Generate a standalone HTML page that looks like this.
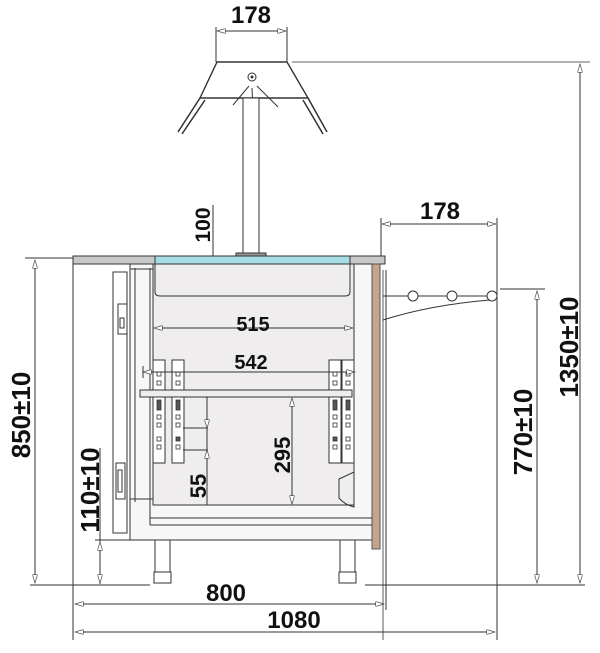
<!DOCTYPE html>
<html><head><meta charset="utf-8"><style>
html,body{margin:0;padding:0;background:#fff;}
svg{display:block;}
text{font-family:"Liberation Sans",Arial,sans-serif;font-weight:bold;fill:#111;}
</style></head><body>
<svg width="600" height="653" viewBox="0 0 600 653" xmlns="http://www.w3.org/2000/svg">
<defs>
<marker id="a" viewBox="0 0 10 6" refX="10" refY="3" markerWidth="10" markerHeight="5" orient="auto-start-reverse" markerUnits="userSpaceOnUse"><path d="M0,0 L10,3 L0,6 Z" fill="#fff" stroke="#444" stroke-width="0.8"/></marker>
</defs>
<g stroke="#333" stroke-width="1" fill="none">
<!-- lamp -->
<line x1="216" y1="62" x2="216" y2="27"/><line x1="287" y1="62" x2="287" y2="27"/>
<line x1="217" y1="31" x2="286" y2="31" marker-start="url(#a)" marker-end="url(#a)"/>
<line x1="292" y1="62" x2="590" y2="62" stroke-width="0.8"/>
<path d="M217,62 L287,62 L308,98 L200,98 Z" fill="#fff" stroke-width="1.4"/>
<circle cx="252" cy="77" r="4"/><circle cx="252" cy="77" r="1" fill="#333"/>
<line x1="249" y1="86" x2="233" y2="105"/><line x1="252" y1="88" x2="253" y2="112"/><line x1="257" y1="86" x2="278" y2="107"/>
<path d="M200,98 L178,132 M205,100 L182,134" stroke-width="1.5"/>
<path d="M308,98 L327,132 M303,100 L323,134" stroke-width="1.5"/>
<rect x="243" y="98" width="16" height="157" fill="#fff"/>
<rect x="236" y="253" width="30" height="3" fill="#999"/>
<!-- 100 dim -->
<line x1="213" y1="205" x2="213" y2="296"/>
<line x1="213" y1="266" x2="213" y2="294" marker-start="url(#a)" marker-end="url(#a)"/>
<!-- counter -->
<rect x="73" y="256" width="312" height="8" fill="#c8c8c8"/>
<rect x="155" y="256" width="195" height="8" fill="#a6dde3"/>
<!-- cabinet -->
<rect x="130" y="264" width="242" height="276" fill="#f7f7f7"/>
<rect x="153" y="264" width="201" height="241" fill="#efeded"/>
<path d="M155,264 L155,292 Q155,296 160,296 L345,296 Q350,296 350,292 L350,264"/>
<line x1="135" y1="268" x2="135" y2="502"/><line x1="150" y1="268" x2="150" y2="502"/>
<line x1="130" y1="269" x2="153" y2="269"/><line x1="130" y1="499" x2="153" y2="499"/>
<rect x="113" y="272" width="14" height="261" fill="#fff"/>
<rect x="118" y="304" width="9" height="30" fill="#fff"/><rect x="120" y="318" width="4" height="10"/>
<rect x="116" y="463" width="9" height="36" fill="#fff"/><rect x="118" y="470" width="4" height="22"/>
<rect x="372" y="264" width="8" height="285" fill="#c4a78a" stroke="#555"/>
<line x1="383" y1="270" x2="383" y2="640" stroke-width="0.8"/>
<!-- floor -->
<line x1="153" y1="505" x2="354" y2="505"/>
<line x1="150" y1="518" x2="372" y2="518"/><line x1="150" y1="525" x2="372" y2="525"/>
<line x1="150" y1="500" x2="150" y2="525"/>
<path d="M339,479 L354,472 L354,507 Q345,505 339,498 Z"/>
<!-- brackets -->
<g fill="#fff">
<rect x="153" y="360" width="12" height="103"/><rect x="172" y="360" width="12" height="103"/>
<rect x="329" y="360" width="12" height="103"/><rect x="342" y="360" width="12" height="103"/>
</g>
<g stroke-width="0.8">
<rect x="157" y="372" width="4" height="4"/><rect x="157" y="381" width="4" height="4"/><rect x="157" y="400" width="4" height="10" fill="#555"/><rect x="157" y="415" width="4" height="4"/><rect x="157" y="423" width="4" height="4"/><rect x="157" y="437" width="4" height="4"/><rect x="157" y="445" width="4" height="4"/>
<rect x="176" y="372" width="4" height="4"/><rect x="176" y="381" width="4" height="4"/><rect x="176" y="400" width="4" height="10" fill="#555"/><rect x="176" y="415" width="4" height="4"/><rect x="176" y="423" width="4" height="4"/><rect x="176" y="437" width="4" height="4" fill="#555"/><rect x="176" y="445" width="4" height="4"/>
<rect x="333" y="372" width="4" height="4"/><rect x="333" y="381" width="4" height="4"/><rect x="333" y="400" width="4" height="10" fill="#555"/><rect x="333" y="415" width="4" height="4"/><rect x="333" y="423" width="4" height="4"/><rect x="333" y="437" width="4" height="4" fill="#555"/><rect x="333" y="445" width="4" height="4"/>
<rect x="346" y="372" width="4" height="4"/><rect x="346" y="381" width="4" height="4"/><rect x="346" y="400" width="4" height="10" fill="#555"/><rect x="346" y="415" width="4" height="4"/><rect x="346" y="423" width="4" height="4"/><rect x="346" y="437" width="4" height="4"/><rect x="346" y="445" width="4" height="4"/>
</g>
<rect x="140" y="390" width="212" height="7" fill="#eee"/>
<!-- inner dims -->
<line x1="154" y1="328" x2="353" y2="328" marker-start="url(#a)" marker-end="url(#a)"/>
<line x1="143" y1="372" x2="355" y2="372" marker-start="url(#a)" marker-end="url(#a)"/>
<line x1="143" y1="366" x2="143" y2="378"/>
<line x1="292" y1="398" x2="292" y2="504" marker-start="url(#a)" marker-end="url(#a)"/>
<line x1="207" y1="397" x2="207" y2="505"/>
<line x1="183" y1="428" x2="208" y2="428"/><line x1="183" y1="450" x2="208" y2="450"/>
<line x1="207" y1="412" x2="207" y2="428" marker-end="url(#a)"/>
<line x1="207" y1="466" x2="207" y2="450" marker-end="url(#a)"/>
<!-- legs -->
<rect x="155" y="540" width="15" height="40" fill="#fff"/><rect x="154" y="572" width="17" height="11" fill="#fff"/>
<rect x="340" y="540" width="15" height="40" fill="#fff"/><rect x="339" y="572" width="17" height="11" fill="#fff"/>
<line x1="145" y1="540" x2="180" y2="540"/><line x1="330" y1="540" x2="365" y2="540"/>
<!-- left dims -->
<line x1="25" y1="258" x2="73" y2="258"/>
<line x1="30" y1="585" x2="150" y2="585"/>
<line x1="35" y1="260" x2="35" y2="583" marker-start="url(#a)" marker-end="url(#a)"/>
<line x1="95" y1="540" x2="130" y2="540"/>
<line x1="100" y1="448" x2="100" y2="584"/>
<line x1="100" y1="542" x2="100" y2="583" marker-start="url(#a)" marker-end="url(#a)"/>
<line x1="73" y1="264" x2="73" y2="640"/>
<!-- bottom dims -->
<line x1="365" y1="585" x2="585" y2="585"/>
<line x1="386" y1="270" x2="386" y2="610"/>
<line x1="75" y1="604" x2="384" y2="604" marker-start="url(#a)" marker-end="url(#a)"/>
<line x1="75" y1="632" x2="495" y2="632" marker-start="url(#a)" marker-end="url(#a)"/>
<!-- right side -->
<line x1="381" y1="218" x2="381" y2="256"/>
<line x1="497" y1="218" x2="497" y2="640"/>
<line x1="382" y1="224" x2="496" y2="224" marker-start="url(#a)" marker-end="url(#a)"/>
<line x1="383" y1="296" x2="488" y2="296"/>
<circle cx="413" cy="296" r="5" fill="#fff"/><circle cx="452" cy="296" r="5" fill="#fff"/><circle cx="492" cy="296" r="5" fill="#fff"/>
<path d="M383,320 Q430,305 490,300"/>
<line x1="500" y1="289" x2="545" y2="289"/>
<line x1="537" y1="291" x2="537" y2="583" marker-start="url(#a)" marker-end="url(#a)"/>
<line x1="580" y1="64" x2="580" y2="583" marker-start="url(#a)" marker-end="url(#a)"/>
</g>
<g font-size="24">
<text x="251" y="23" text-anchor="middle">178</text>
<text x="440" y="219" text-anchor="middle">178</text>
<text x="253" y="331" text-anchor="middle" font-size="20">515</text>
<text x="251" y="369" text-anchor="middle" font-size="20">542</text>
<text x="226" y="601" text-anchor="middle">800</text>
<text x="294" y="628" text-anchor="middle">1080</text>
<text transform="translate(210,225) rotate(-90)" text-anchor="middle" font-size="21">100</text>
<text transform="translate(290,455) rotate(-90)" text-anchor="middle" font-size="22">295</text>
<text transform="translate(206,486) rotate(-90)" text-anchor="middle" font-size="22">55</text>
<text transform="translate(30,415) rotate(-90)" text-anchor="middle" font-size="26">850±10</text>
<text transform="translate(99,490) rotate(-90)" text-anchor="middle" font-size="26">110±10</text>
<text transform="translate(532,432) rotate(-90)" text-anchor="middle" font-size="26">770±10</text>
<text transform="translate(578,347) rotate(-90)" text-anchor="middle" font-size="26">1350±10</text>
</g>
</svg>
</body></html>
